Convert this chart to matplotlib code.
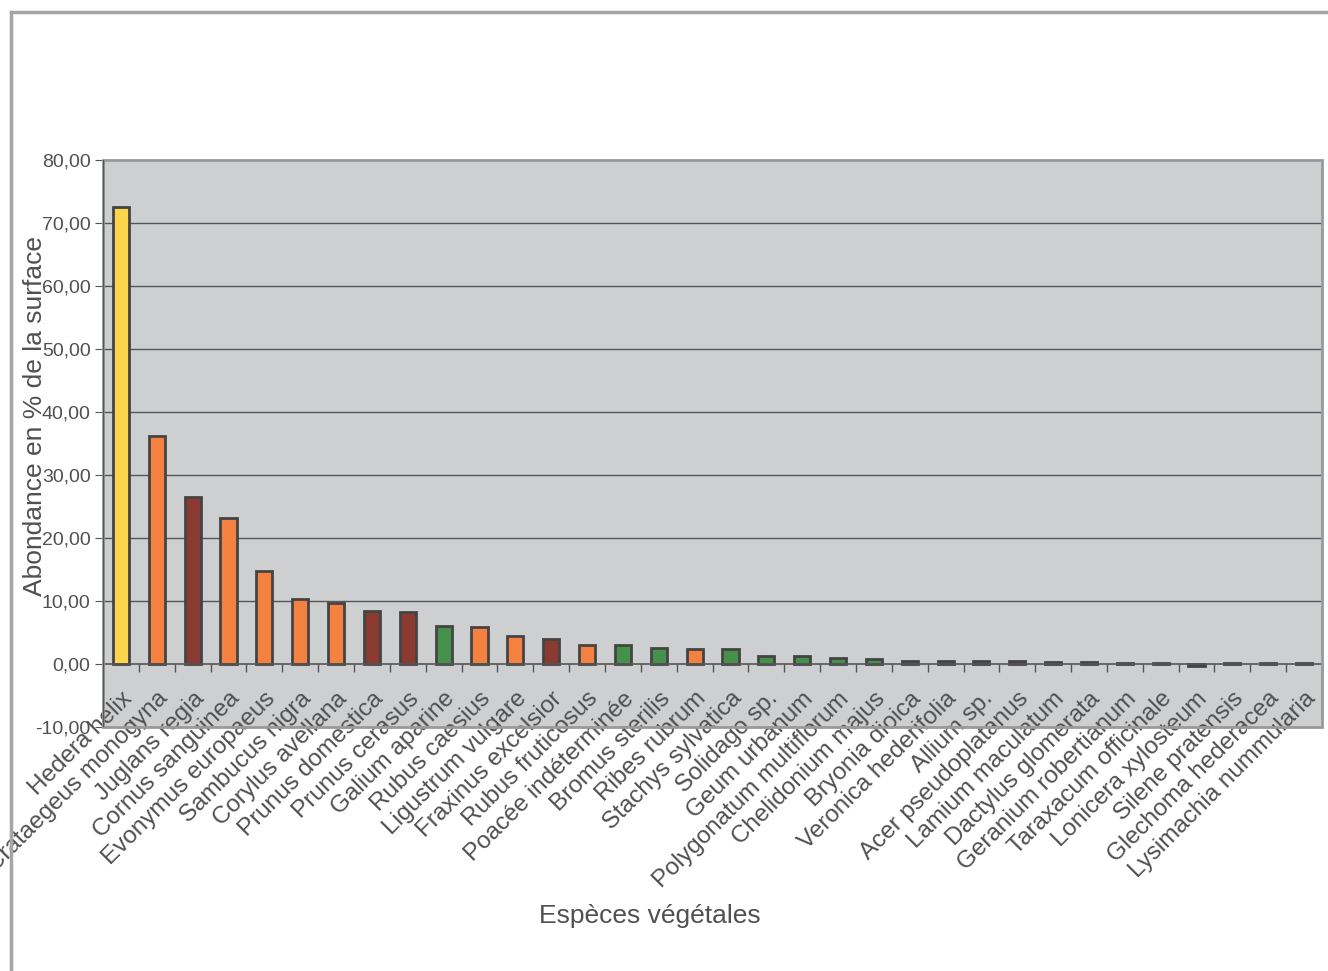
import matplotlib.pyplot as plt
from matplotlib.lines import Line2D
from matplotlib.patches import Rectangle
from matplotlib.ticker import FixedLocator, FuncFormatter

plt.rcParams['font.family'] = ['Liberation Sans', 'DejaVu Sans']

# Species, abundance (% of surface) and group colour of each bar.

species = [
    "Hedera helix", "Crataegeus monogyna", "Juglans regia", "Cornus sanguinea",
    "Evonymus europaeus", "Sambucus nigra", "Corylus avellana", "Prunus domestica",
    "Prunus cerasus", "Galium aparine", "Rubus caesius", "Ligustrum vulgare",
    "Fraxinus excelsior", "Rubus fruticosus", "Poacée indéterminée", "Bromus sterilis",
    "Ribes rubrum", "Stachys sylvatica", "Solidago sp.", "Geum urbanum",
    "Polygonatum multiflorum", "Chelidonium majus", "Bryonia dioica",
    "Veronica hederifolia", "Allium sp.", "Acer pseudoplatanus", "Lamium maculatum",
    "Dactylus glomerata", "Geranium robertianum", "Taraxacum officinale",
    "Lonicera xylosteum", "Silene pratensis", "Glechoma hederacea",
    "Lysimachia nummularia",
]

abundance = [
    72.5, 36.2, 26.5, 23.2, 14.8, 10.3, 9.7, 8.45, 8.25, 6.0, 5.8, 4.5,
    4.0, 3.05, 3.0, 2.6, 2.4, 2.35, 1.3, 1.3, 0.95, 0.85, 0.55, 0.45,
    0.45, 0.4, 0.35, 0.3, 0.2, 0.2, -0.3, 0.15, 0.15, 0.15,
]

groups = [
    "lierre", "arbuste", "arbre", "arbuste", "arbuste", "arbuste", "arbuste", "arbre",
    "arbre", "herbe", "arbuste", "arbuste", "arbre", "arbuste", "herbe", "herbe",
    "arbuste", "herbe", "herbe", "herbe", "herbe", "herbe", "herbe", "herbe",
    "herbe", "arbre", "herbe", "herbe", "herbe", "herbe", "arbuste", "herbe",
    "herbe", "herbe",
]

group_colors = {
    "lierre": "#FDD44B",
    "arbuste": "#F4813F",
    "arbre": "#8A3A30",
    "herbe": "#45904B",
}

text_color = "#505050"

fig = plt.figure(figsize=(13.28, 9.71), dpi=100)
ax = fig.add_axes([0.0776, 0.2513, 0.9179, 0.5839])
ax.set_facecolor("#CECFD1")

x = list(range(len(species)))
colors = [group_colors[g] for g in groups]

ax.bar(x, abundance, width=0.45, color=colors, edgecolor="#444444",
       linewidth=2, zorder=3)

ax.set_xlim(-0.5, len(species) - 0.5)
ax.set_ylim(-10, 80)

# Horizontal grid lines.
for v in range(10, 80, 10):
    ax.axhline(v, color="#555555", linewidth=1, zorder=1)

# Category axis crossing at zero.
for side in ["left", "right", "top", "bottom"]:
    ax.spines[side].set_visible(False)
ax.spines["bottom"].set_visible(True)
ax.spines["bottom"].set_position(("data", 0))
ax.spines["bottom"].set_color("#555555")
ax.spines["bottom"].set_linewidth(1.2)
ax.spines["bottom"].set_zorder(4)

ax.set_xticks(x)
ax.set_xticklabels(species, rotation=45, ha="right", va="top",
                   rotation_mode="anchor", fontsize=17.5, color=text_color)
ax.tick_params(axis="x", which="major", length=0, pad=17)
ax.xaxis.set_minor_locator(FixedLocator([i - 0.5 for i in range(len(species) + 1)]))
ax.tick_params(axis="x", which="minor", length=6, color="#555555", width=1,
               direction="out")

ax.set_yticks(range(-10, 90, 10))
ax.yaxis.set_major_formatter(FuncFormatter(lambda v, p: f"{v:.2f}".replace(".", ",")))
ax.tick_params(axis="y", length=6, color="#555555", labelsize=14,
               labelcolor=text_color, pad=3)

ax.set_ylabel("Abondance en % de la surface", fontsize=19, color=text_color)
ax.yaxis.set_label_coords(-0.046, 0.548)

# Plot area border.
ax.add_patch(Rectangle((0, 0), 1, 1, transform=ax.transAxes, fill=False,
                       edgecolor="#9A9A9A", linewidth=2, zorder=5, clip_on=False))
ax.axvline(-0.5, color="#555555", linewidth=1, zorder=5)

fig.text(0.489, 0.0566, "Espèces végétales", fontsize=19, color=text_color,
         ha="center", va="center")

# Outer chart frame.
fig.add_artist(Line2D([0.0085, 0.0085], [0, 0.988], color="#A5A5A5", linewidth=2.5,
                      transform=fig.transFigure))
fig.add_artist(Line2D([0.0085, 1], [0.988, 0.988], color="#A5A5A5", linewidth=2.5,
                      transform=fig.transFigure))

fig.savefig("out.png", dpi=100)
